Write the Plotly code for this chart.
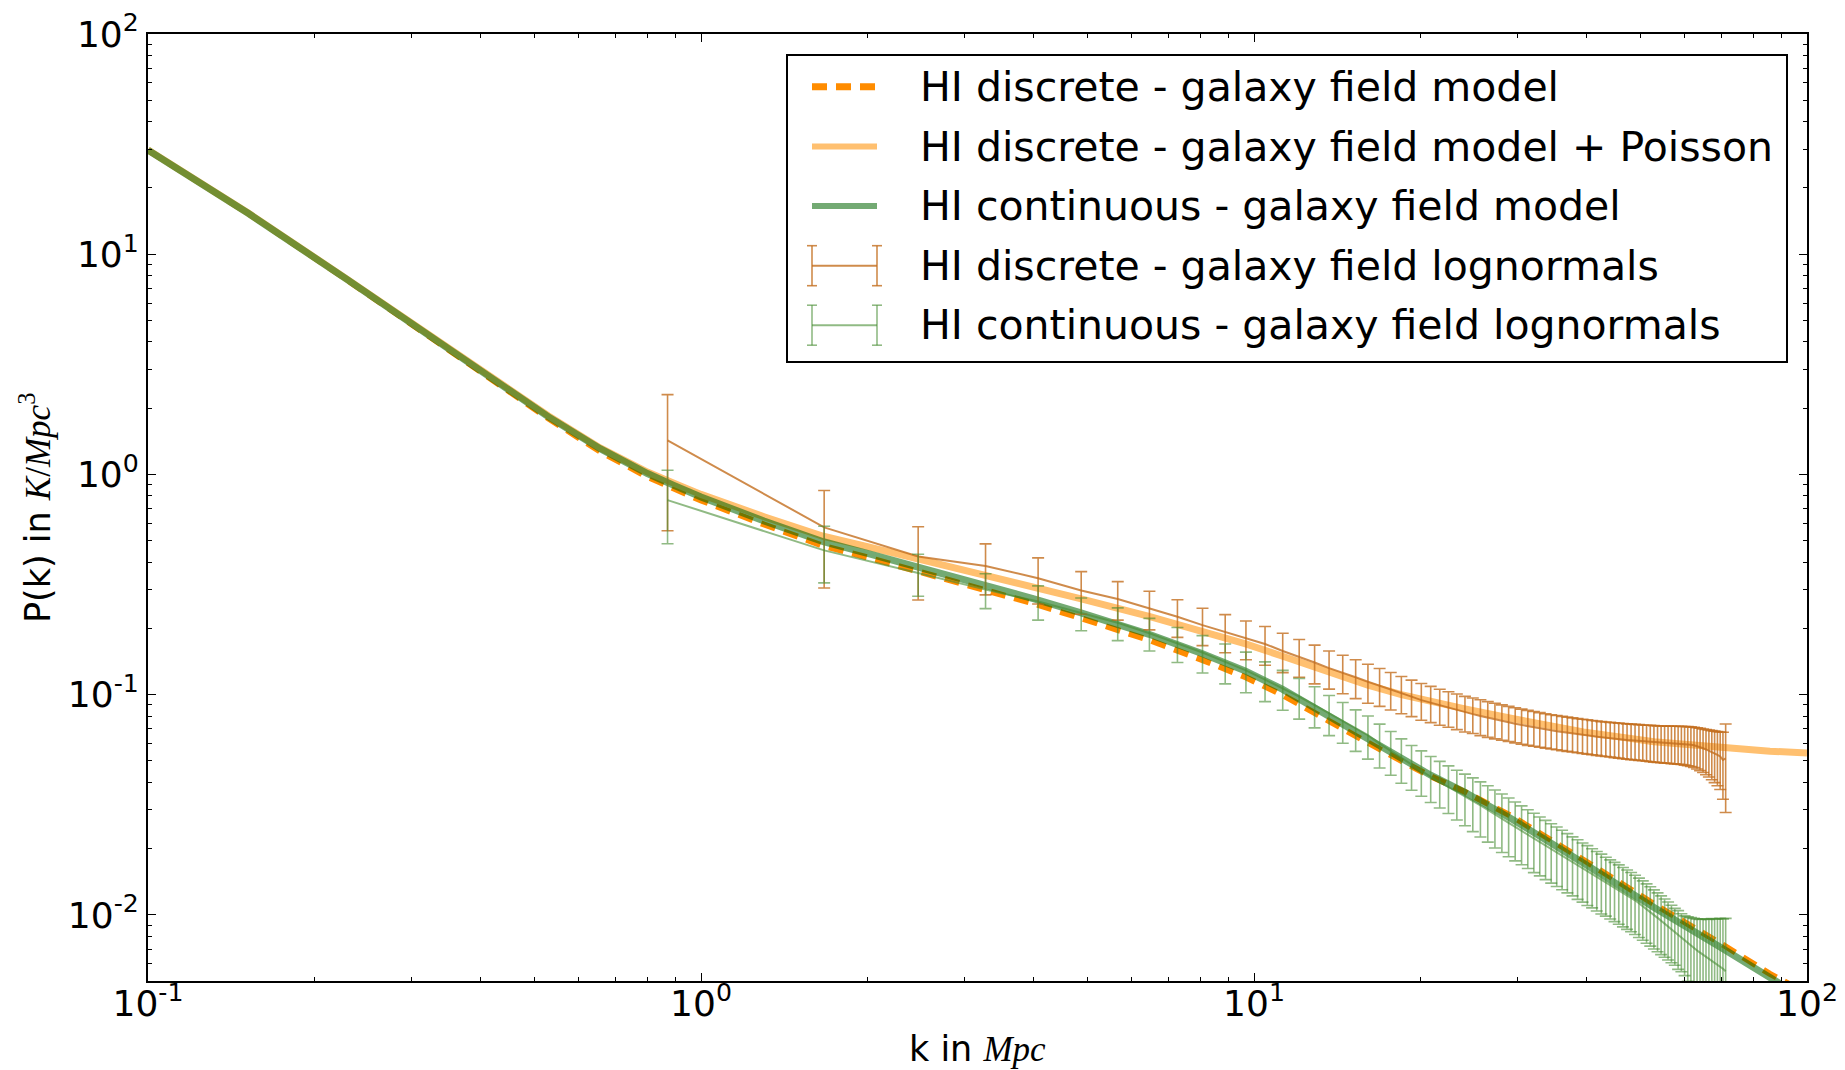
import plotly.graph_objects as go

# ---------------- data ----------------
k_model = [0.1, 0.152, 0.23, 0.349, 0.529, 0.657, 0.8, 0.891, 1.0, 1.3, 1.664, 2.0,
           2.47, 3.29, 4.0, 4.85, 6.46, 8.05, 9.66, 11.27, 13.67, 16.07, 18.47,
           20.87, 24.07, 29.3, 39.4, 52.9, 70.6, 85.7, 100]
p_cont_model = [29.7, 15.3, 7.63, 3.74, 1.83, 1.31, 1.01, 0.895, 0.79, 0.615, 0.495, 0.4385,
                0.381, 0.315, 0.2725, 0.236, 0.188, 0.154, 0.128, 0.1057, 0.0794, 0.0633, 0.0513,
                0.0431, 0.0360, 0.0272, 0.0172, 0.0108, 0.0070, 0.0052, 0.0041]
p_disc_model = [29.7, 15.3, 7.6, 3.72, 1.80, 1.27, 0.975, 0.865, 0.762, 0.593, 0.474, 0.42,
                0.364, 0.300, 0.259, 0.223, 0.177, 0.144, 0.120, 0.0995, 0.0755, 0.0605, 0.0500,
                0.0426, 0.0362, 0.0280, 0.0178, 0.0112, 0.0073, 0.0054, 0.0044]
p_disc_poisson = [29.75, 15.35, 7.65, 3.77, 1.85, 1.32, 1.025, 0.915, 0.812, 0.643, 0.524, 0.47,
                  0.414, 0.350, 0.309, 0.273, 0.227, 0.194, 0.170, 0.1495, 0.1255, 0.1105, 0.100,
                  0.0926, 0.0862, 0.078, 0.0678, 0.0612, 0.0573, 0.0554, 0.0544]

k_data = [0.87, 1.67, 2.47, 3.27, 4.07, 4.87, 5.67, 6.47, 7.27, 8.07,
          8.87, 9.67, 10.47, 11.27, 12.07, 12.87, 13.67, 14.47, 15.27, 16.07,
          16.87, 17.67, 18.47, 19.27, 20.07, 20.87, 21.67, 22.47, 23.27, 24.07,
          24.87, 25.67, 26.47, 27.27, 28.07, 28.87, 29.67, 30.47, 31.27, 32.07,
          32.87, 33.67, 34.47, 35.27, 36.07, 36.87, 37.67, 38.47, 39.27, 40.07,
          40.87, 41.67, 42.47, 43.27, 44.07, 44.87, 45.67, 46.47, 47.27, 48.07,
          48.87, 49.67, 50.47, 51.27, 52.07, 52.87, 53.67, 54.47, 55.27, 56.07,
          56.87, 57.67, 58.47, 59.27, 60.07, 60.87, 61.67, 62.47, 63.27, 64.07,
          64.87, 65.67, 66.47, 67.27, 68.07, 68.87, 69.67, 70.47, 71.27]

p_disc_logn = [1.43, 0.575, 0.424, 0.384, 0.338, 0.297, 0.272, 0.246, 0.226, 0.207,
               0.193, 0.180, 0.170, 0.158, 0.149, 0.140, 0.132, 0.126, 0.120, 0.1145,
               0.110, 0.1057, 0.1014, 0.098, 0.0945, 0.0919, 0.0893, 0.0872, 0.0851, 0.0830,
               0.0816, 0.0800, 0.0785, 0.0772, 0.0760, 0.0749, 0.0738, 0.0728, 0.0719, 0.0711,
               0.0703, 0.0696, 0.0689, 0.0683, 0.0677, 0.0672, 0.0667, 0.0662, 0.0657, 0.0653,
               0.0649, 0.0645, 0.0641, 0.0638, 0.0635, 0.0632, 0.0629, 0.0626, 0.0623, 0.0621,
               0.0619, 0.0617, 0.0615, 0.0613, 0.0611, 0.0609, 0.0607, 0.0606, 0.0605, 0.0604,
               0.0603, 0.0602, 0.0601, 0.0600, 0.0598, 0.0596, 0.0593, 0.0589, 0.0584, 0.0578,
               0.0571, 0.0564, 0.0557, 0.0549, 0.0541, 0.0533, 0.0524, 0.0505, 0.0514]
err_disc_logn = [0.875, 0.27, 0.155, 0.10, 0.080, 0.065, 0.054, 0.049, 0.044, 0.040,
                 0.038, 0.036, 0.034, 0.032, 0.029, 0.028, 0.026, 0.025, 0.024, 0.023,
                 0.0215, 0.0205, 0.0195, 0.0185, 0.018, 0.0172, 0.0166, 0.016, 0.0157, 0.0153,
                 0.015, 0.0148, 0.0145, 0.0142, 0.0139, 0.0136, 0.0134, 0.0132, 0.0130, 0.0128,
                 0.0126, 0.0124, 0.0122, 0.0121, 0.0120, 0.0119, 0.0118, 0.0117, 0.0116, 0.0116,
                 0.0115, 0.0115, 0.0114, 0.0114, 0.0114, 0.0114, 0.0114, 0.0114, 0.0114, 0.0114,
                 0.0114, 0.0114, 0.0114, 0.0114, 0.0115, 0.0115, 0.0115, 0.0115, 0.0116, 0.0116,
                 0.0117, 0.0117, 0.0118, 0.0118, 0.0119, 0.0120, 0.0121, 0.0122, 0.0124, 0.0126,
                 0.0128, 0.0131, 0.0134, 0.0138, 0.0142, 0.0147, 0.0153, 0.0170, 0.0222]

p_cont_logn = [0.765, 0.452, 0.357, 0.300, 0.265, 0.235, 0.212, 0.190, 0.171, 0.1555,
               0.141, 0.129, 0.117, 0.107, 0.098, 0.0897, 0.0822, 0.0762, 0.0703, 0.0655,
               0.0600, 0.0556, 0.0513, 0.0478, 0.0451, 0.0424, 0.0402, 0.0382, 0.0362, 0.0345,
               0.0329, 0.0314, 0.0300, 0.02854, 0.02731, 0.02616, 0.02509, 0.02409, 0.02315, 0.02227,
               0.02145, 0.02067, 0.01995, 0.01926, 0.01862, 0.01799, 0.01741, 0.01686, 0.01633, 0.01584,
               0.01537, 0.01492, 0.01449, 0.01408, 0.01369, 0.01332, 0.01297, 0.01263, 0.01230, 0.01199,
               0.01165, 0.01130, 0.01097, 0.01064, 0.01032, 0.01000, 0.00970, 0.00940, 0.00912, 0.00884,
               0.00857, 0.00831, 0.00806, 0.00782, 0.00760, 0.00740, 0.00722, 0.00705, 0.00689, 0.00674,
               0.00660, 0.00647, 0.00634, 0.00622, 0.00610, 0.00598, 0.00585, 0.00570, 0.00555]
err_cont_logn = [0.28, 0.13, 0.077, 0.054, 0.047, 0.040, 0.036, 0.032, 0.031, 0.030,
                 0.029, 0.027, 0.024, 0.022, 0.0205, 0.019, 0.017, 0.016, 0.015, 0.0145,
                 0.0135, 0.0125, 0.0117, 0.011, 0.0105, 0.0100, 0.0096, 0.0093, 0.0092, 0.0091,
                 0.0090, 0.0088, 0.0086, 0.0084, 0.0081, 0.0078, 0.0075, 0.0072, 0.0069, 0.0067,
                 0.0064, 0.0062, 0.0060, 0.0058, 0.0056, 0.0054, 0.0052, 0.0051, 0.0049, 0.0048,
                 0.0046, 0.0045, 0.0044, 0.0042, 0.0041, 0.0040, 0.0039, 0.0038, 0.0037, 0.0036,
                 0.0035, 0.0034, 0.0033, 0.0032, 0.0031, 0.0030, 0.0029, 0.0028, 0.0027, 0.0026,
                 0.0025, 0.0024, 0.0024, 0.0023, 0.0023, 0.0024, 0.0025, 0.0026, 0.0027, 0.0028,
                 0.0030, 0.0031, 0.0032, 0.0034, 0.0035, 0.0036, 0.0038, 0.0039, 0.0041]

x_tickvals = [0.1, 1, 10, 100]
x_ticktext = ["10<sup>-1</sup>", "10<sup>0</sup>", "10<sup>1</sup>", "10<sup>2</sup>"]
y_tickvals = [0.01, 0.1, 1, 10, 100]
y_ticktext = ["10<sup>-2</sup>", "10<sup>-1</sup>", "10<sup>0</sup>", "10<sup>1</sup>", "10<sup>2</sup>"]

x_title = "k in <span style=\"font-family:'Liberation Serif'\"><i>Mpc</i></span>"
y_title = "P(k) in <span style=\"font-family:'Liberation Serif'\"><i>K</i>/<i>Mpc</i><sup>3</sup></span>"

legend_labels = ["HI discrete - galaxy field model",
                 "HI discrete - galaxy field model + Poisson",
                 "HI continuous - galaxy field model",
                 "HI discrete - galaxy field lognormals",
                 "HI continuous - galaxy field lognormals"]

# ---------------- styles ----------------
FONT = "DejaVu Sans"
C_DASH = "#FF8C00"
C_POIS = "#FFC070"
C_CONT = "rgba(0,100,0,0.55)"
C_DLOG = "rgba(195,110,30,0.8)"
C_CLOG = "rgba(70,140,50,0.6)"
DASH = "15px,9px"

# the page body adds an 8px offset; figure is sized so the plot lands where the reference has it
OFF = 8
W, H = 1845 - OFF, 1070 - OFF
ML, MR, MT, MB = 148 - OFF, 38, 34 - OFF, 89

fig = go.Figure()
fig.add_trace(go.Scatter(x=k_model, y=p_disc_model, mode="lines", name=legend_labels[0],
                         line=dict(color=C_DASH, width=6, dash=DASH)))
fig.add_trace(go.Scatter(x=k_model, y=p_disc_poisson, mode="lines", name=legend_labels[1],
                         line=dict(color=C_POIS, width=7)))
fig.add_trace(go.Scatter(x=k_model, y=p_cont_model, mode="lines", name=legend_labels[2],
                         line=dict(color=C_CONT, width=7)))
fig.add_trace(go.Scatter(x=k_data, y=p_disc_logn, mode="lines", name=legend_labels[3],
                         line=dict(color=C_DLOG, width=2),
                         error_y=dict(type="data", array=err_disc_logn, color=C_DLOG,
                                      thickness=1.6, width=6)))
fig.add_trace(go.Scatter(x=k_data, y=p_cont_logn, mode="lines", name=legend_labels[4],
                         line=dict(color=C_CLOG, width=2),
                         error_y=dict(type="data", array=err_cont_logn, color=C_CLOG,
                                      thickness=1.6, width=6)))

axis_common = dict(type="log", showgrid=False, zeroline=False, showline=True, linewidth=2,
                   linecolor="black", mirror="allticks", ticks="inside", ticklen=8,
                   tickwidth=1.2, tickcolor="black", automargin=False,
                   tickfont=dict(family=FONT, size=36, color="black"),
                   minor=dict(ticks="inside", ticklen=4, tickwidth=1, tickcolor="black",
                              dtick="D1", showgrid=False))

fig.update_xaxes(range=[-1, 2], tickmode="array", tickvals=x_tickvals, ticktext=x_ticktext,
                 ticklabelstandoff=-10, **axis_common)
fig.update_yaxes(range=[-2.3, 2], tickmode="array", tickvals=y_tickvals, ticktext=y_ticktext,
                 **axis_common)

# ---------------- positions given in reference-page pixels ----------------
PW = W - ML - MR
PH = H - MT - MB


def px(x):
    return (x - OFF - ML) / PW


def py(y):
    return (H - MB - (y - OFF)) / PH


shapes = []
annotations = []

# axis titles
annotations.append(dict(xref="paper", yref="paper", x=px(977.5), y=py(1049), text=x_title,
                        showarrow=False, xanchor="center", yanchor="middle",
                        font=dict(family=FONT, size=35, color="black")))
annotations.append(dict(xref="paper", yref="paper", x=px(36), y=py(508), text=y_title,
                        showarrow=False, xanchor="center", yanchor="middle", textangle=-90,
                        font=dict(family=FONT, size=35, color="black")))

# legend (matplotlib style)
shapes.append(dict(type="rect", xref="paper", yref="paper", x0=px(787), x1=px(1787),
                   y0=py(362), y1=py(55), line=dict(color="black", width=2),
                   fillcolor="white", layer="above"))
rows = [86.7, 146.5, 206.0, 265.7, 325.2]
sx0, sx1, tx = 812, 877, 918
shapes.append(dict(type="line", xref="paper", yref="paper", x0=px(sx0), x1=px(sx1),
                   y0=py(rows[0]), y1=py(rows[0]), layer="above",
                   line=dict(color=C_DASH, width=7, dash=DASH)))
shapes.append(dict(type="line", xref="paper", yref="paper", x0=px(sx0), x1=px(sx1),
                   y0=py(rows[1]), y1=py(rows[1]), layer="above",
                   line=dict(color=C_POIS, width=6)))
shapes.append(dict(type="line", xref="paper", yref="paper", x0=px(sx0), x1=px(sx1),
                   y0=py(rows[2]), y1=py(rows[2]), layer="above",
                   line=dict(color=C_CONT, width=6)))
for r, col in ((rows[3], C_DLOG), (rows[4], C_CLOG)):
    shapes.append(dict(type="line", xref="paper", yref="paper", x0=px(sx0), x1=px(sx1),
                       y0=py(r), y1=py(r), layer="above", line=dict(color=col, width=2)))
    for xv in (sx0, sx1):
        shapes.append(dict(type="line", xref="paper", yref="paper", x0=px(xv), x1=px(xv),
                           y0=py(r - 20), y1=py(r + 20), layer="above",
                           line=dict(color=col, width=1.6)))
        for yv in (r - 20, r + 20):
            shapes.append(dict(type="line", xref="paper", yref="paper", x0=px(xv - 5),
                               x1=px(xv + 5), y0=py(yv), y1=py(yv), layer="above",
                               line=dict(color=col, width=1.6)))
for r, lab in zip(rows, legend_labels):
    annotations.append(dict(xref="paper", yref="paper", x=px(tx), y=py(r), text=lab,
                            showarrow=False, xanchor="left", yanchor="middle",
                            font=dict(family=FONT, size=41, color="black")))

fig.update_layout(width=W, height=H, margin=dict(l=ML, r=MR, t=MT, b=MB, autoexpand=False),
                  paper_bgcolor="white", plot_bgcolor="white", showlegend=False,
                  font=dict(family=FONT, color="black"),
                  shapes=shapes, annotations=annotations)

fig.write_html("out.html")
